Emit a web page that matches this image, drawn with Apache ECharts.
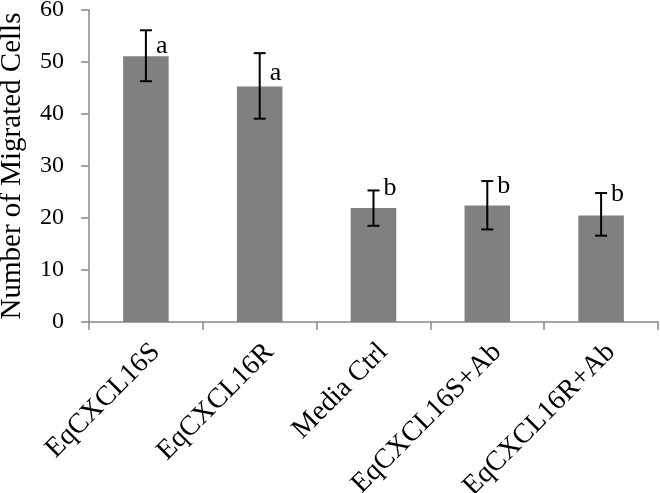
<!DOCTYPE html>
<html>
<head>
<meta charset="utf-8">
<script src="https://cdn.jsdelivr.net/npm/echarts@6/dist/echarts.min.js"></script>
<style>html,body{margin:0;padding:0;background:#fff}#c{width:660px;height:493px}</style>
</head>
<body>
<div id="c"></div>
<script>
var categories = ['EqCXCL16S', 'EqCXCL16R', 'Media Ctrl', 'EqCXCL16S+Ab', 'EqCXCL16R+Ab'];
var means = [51.1, 45.3, 21.9, 22.4, 20.5];
var errUpper = [56.1, 51.7, 25.3, 27.1, 24.8];
var errLower = [46.3, 39.1, 18.5, 17.8, 16.6];
var letters = ['a', 'a', 'b', 'b', 'b'];
var letterY = [53.1, 47.9, 25.8, 26.2, 24.5];
var yTicks = [0, 10, 20, 30, 40, 50, 60];

var FONT = "'Times New Roman', 'Liberation Serif', Tinos, serif";
var axisColor = '#888888';
var chart = echarts.init(document.getElementById('c'), null, {renderer: 'canvas'});
chart.setOption({
  animation: false,
  grid: {left: 89, right: 2, top: 10, bottom: 171, containLabel: false, outerBoundsMode: 'none'},
  xAxis: {
    type: 'category',
    data: categories,
    boundaryGap: true,
    axisLine: {lineStyle: {color: axisColor, width: 1.5}},
    axisTick: {show: true, length: 8, lineStyle: {color: axisColor, width: 1.5}},
    axisLabel: {rotate: 45, margin: 16, verticalAlign: 'top', color: '#000', fontFamily: FONT, fontSize: 28, interval: 0}
  },
  yAxis: {
    type: 'value',
    min: yTicks[0], max: yTicks[yTicks.length - 1], interval: 10,
    name: 'Number of Migrated Cells',
    nameLocation: 'middle', nameRotate: 90, nameGap: 62,
    nameTextStyle: {color: '#000', fontFamily: FONT, fontSize: 29},
    axisLine: {show: true, lineStyle: {color: axisColor, width: 1.5}},
    axisTick: {show: true, length: 8, lineStyle: {color: axisColor, width: 1.5}},
    splitLine: {show: false},
    axisLabel: {margin: 25, color: '#000', fontFamily: FONT, fontSize: 24}
  },
  series: [
    {
      type: 'bar',
      data: means,
      barWidth: '40%',
      itemStyle: {color: '#808080'},
      z: 2
    },
    {
      type: 'custom',
      data: means.map(function (m, i) { return [i, errLower[i], errUpper[i]]; }),
      renderItem: function (params, api) {
        var lo = api.coord([api.value(0), api.value(1)]);
        var hi = api.coord([api.value(0), api.value(2)]);
        var hw = 6;
        var st = {stroke: '#000', lineWidth: 2};
        return {type: 'group', children: [
          {type: 'line', shape: {x1: hi[0], y1: hi[1], x2: lo[0], y2: lo[1]}, style: st},
          {type: 'line', shape: {x1: hi[0] - hw, y1: hi[1], x2: hi[0] + hw, y2: hi[1]}, style: st},
          {type: 'line', shape: {x1: lo[0] - hw, y1: lo[1], x2: lo[0] + hw, y2: lo[1]}, style: st}
        ]};
      },
      z: 3
    },
    {
      type: 'custom',
      data: letterY.map(function (v, i) { return [i, v]; }),
      renderItem: function (params, api) {
        var p = api.coord([api.value(0), api.value(1)]);
        return {type: 'text', x: p[0] + 10, y: p[1], style: {
          text: letters[params.dataIndex], fill: '#000', fontFamily: FONT, fontSize: 26,
          align: 'left', verticalAlign: 'middle'
        }};
      },
      z: 4
    }
  ]
});
</script>
</body>
</html>
